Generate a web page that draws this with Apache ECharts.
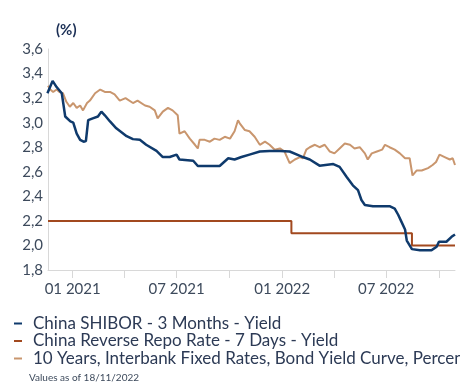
<!DOCTYPE html>
<html>
<head>
<meta charset="utf-8">
<script src="https://cdn.jsdelivr.net/npm/echarts@6/dist/echarts.min.js"></script>
<style>html,body{margin:0;padding:0;background:#fff}#c{width:460px;height:392px}</style>
</head>
<body>
<div id="c"></div>
<script>
const seriesNames = [
  'China SHIBOR - 3 Months - Yield',
  'China Reverse Repo Rate - 7 Days - Yield',
  '10 Years, Interbank Fixed Rates, Bond Yield Curve, Percent'
];
const shibor = [
  ['2020-11-18',3.24],['2020-11-27',3.34],['2020-12-04',3.29],['2020-12-13',3.24],['2020-12-19',3.05],
  ['2020-12-28',3.01],['2021-01-02',3.00],['2021-01-08',2.91],['2021-01-14',2.86],['2021-01-20',2.845],
  ['2021-01-24',2.85],['2021-01-28',3.02],['2021-02-05',3.035],['2021-02-14',3.05],['2021-02-20',3.09],
  ['2021-02-26',3.06],['2021-03-07',3.01],['2021-03-18',2.954],['2021-04-05',2.89],['2021-04-16',2.866],
  ['2021-04-28',2.86],['2021-05-09',2.82],['2021-05-27',2.77],['2021-06-07',2.72],['2021-06-19',2.72],
  ['2021-07-01',2.74],['2021-07-06',2.70],['2021-07-30',2.69],['2021-08-07',2.647],['2021-09-14',2.647],
  ['2021-09-29',2.71],['2021-10-10',2.70],['2021-10-22',2.72],['2021-11-05',2.74],['2021-11-23',2.765],
  ['2021-12-10',2.77],['2021-12-28',2.77],['2022-01-14',2.765],['2022-02-01',2.73],['2022-02-06',2.72],
  ['2022-02-18',2.70],['2022-03-07',2.65],['2022-03-31',2.663],['2022-04-11',2.64],['2022-04-23',2.56],
  ['2022-05-04',2.49],['2022-05-13',2.45],['2022-05-19',2.37],['2022-05-25',2.33],['2022-06-08',2.32],
  ['2022-07-07',2.32],['2022-07-16',2.30],['2022-07-22',2.25],['2022-07-28',2.19],['2022-08-03',2.13],
  ['2022-08-06',2.04],['2022-08-15',1.97],['2022-08-29',1.96],['2022-09-18',1.96],['2022-09-27',1.99],
  ['2022-10-01',2.03],['2022-10-14',2.03],['2022-10-23',2.07],['2022-10-29',2.09]
];
const repo = [
  ['2020-11-19',2.2],['2022-01-17',2.1],['2022-08-15',2.0],['2022-10-29',2.0]
];
const bond10y = [
  ['2020-11-19',3.30],['2020-11-23',3.27],['2020-11-28',3.25],['2020-12-04',3.27],['2020-12-09',3.25],
  ['2020-12-15',3.24],['2020-12-21',3.17],['2020-12-27',3.13],['2021-01-02',3.16],['2021-01-08',3.12],
  ['2021-01-14',3.14],['2021-01-19',3.10],['2021-01-26',3.16],['2021-01-31',3.18],['2021-02-09',3.24],
  ['2021-02-18',3.27],['2021-02-26',3.25],['2021-03-07',3.25],['2021-03-15',3.23],['2021-03-24',3.18],
  ['2021-04-03',3.20],['2021-04-16',3.16],['2021-04-24',3.18],['2021-05-07',3.14],['2021-05-15',3.13],
  ['2021-05-24',3.10],['2021-05-29',3.035],['2021-06-07',3.09],['2021-06-16',3.12],['2021-06-24',3.10],
  ['2021-07-03',3.06],['2021-07-06',2.91],['2021-07-15',2.93],['2021-07-24',2.87],['2021-08-02',2.82],
  ['2021-08-07',2.79],['2021-08-10',2.86],['2021-08-19',2.86],['2021-08-28',2.845],['2021-09-05',2.87],
  ['2021-09-14',2.86],['2021-09-23',2.885],['2021-10-02',2.87],['2021-10-10',2.93],['2021-10-16',3.02],
  ['2021-10-19',2.995],['2021-10-28',2.94],['2021-11-05',2.93],['2021-11-14',2.885],['2021-11-23',2.82],
  ['2021-12-02',2.845],['2021-12-10',2.82],['2021-12-19',2.78],['2021-12-28',2.79],['2022-01-05',2.765],
  ['2022-01-14',2.67],['2022-01-23',2.70],['2022-02-01',2.72],['2022-02-06',2.71],['2022-02-12',2.78],
  ['2022-02-18',2.80],['2022-02-27',2.82],['2022-03-07',2.80],['2022-03-16',2.82],['2022-03-25',2.765],
  ['2022-04-02',2.75],['2022-04-11',2.79],['2022-04-20',2.83],['2022-04-29',2.82],['2022-05-07',2.79],
  ['2022-05-16',2.80],['2022-05-25',2.75],['2022-05-30',2.70],['2022-06-06',2.75],['2022-06-15',2.765],
  ['2022-06-24',2.78],['2022-06-29',2.82],['2022-07-07',2.80],['2022-07-16',2.78],['2022-07-25',2.75],
  ['2022-08-03',2.71],['2022-08-11',2.71],['2022-08-16',2.57],['2022-08-23',2.61],['2022-09-01',2.61],
  ['2022-09-12',2.63],['2022-09-20',2.655],['2022-09-26',2.68],['2022-10-02',2.74],['2022-10-11',2.72],
  ['2022-10-20',2.70],['2022-10-25',2.71],['2022-10-29',2.655]
];
const xMin = '2020-11-19';
const xMax = '2022-10-29';
const tickDates = ['2021-01-01','2021-04-01','2021-07-01','2021-10-01','2022-01-01','2022-04-01','2022-07-01','2022-10-01'];
const labelDates = ['2021-01-01','2021-07-01','2022-01-01','2022-07-01'];
const yMin = 1.8, yMax = 3.6, yStep = 0.2;
const unitLabel = '(%)';
const footnote = 'Values as of 18/11/2022';
const colors = ['#0f3a6c', '#a2491f', '#c9966e'];

const ts = d => new Date(d + 'T00:00:00Z').getTime();
const chart = echarts.init(document.getElementById('c'), null, {renderer: 'canvas'});
const font = 'Lato, "Liberation Sans", sans-serif';
chart.setOption({
  animation: false,
  color: colors,
  textStyle: {fontFamily: font},
  grid: {left: 48, right: 5, top: 49, bottom: 122, containLabel: false},
  title: [
    {text: unitLabel, left: 51, top: 18, textStyle: {fontSize: 15, fontWeight: 'bold', color: '#1b2f55', fontFamily: font}},
    {text: footnote, left: 24, top: 368, textStyle: {fontSize: 10, fontWeight: 'normal', color: '#3d4a5c', fontFamily: font}}
  ],
  legend: {
    orient: 'vertical', left: 14, top: 315, itemWidth: 8, itemHeight: 2, itemGap: 0.5,
    icon: 'rect', padding: 0,
    textStyle: {fontSize: 17, color: '#2c3a55', lineHeight: 17, padding: [0,0,0,6], fontFamily: font},
    data: seriesNames
  },
  xAxis: {
    type: 'value', min: ts(xMin), max: ts(xMax),
    axisLine: {lineStyle: {color: '#d8d8d8', width: 1}},
    axisTick: {show: true, length: 8, lineStyle: {color: '#d8d8d8'}, customValues: tickDates.map(ts)},
    axisLabel: {
      customValues: labelDates.map(ts), margin: 12, fontSize: 15, color: '#3d4a5c', fontFamily: font,
      formatter: v => { const d = new Date(v); return String(d.getUTCMonth()+1).padStart(2,'0') + ' ' + d.getUTCFullYear(); }
    },
    splitLine: {show: false}
  },
  yAxis: {
    type: 'value', min: yMin, max: yMax, interval: yStep,
    axisLine: {show: true, lineStyle: {color: '#d8d8d8', width: 1}},
    axisTick: {show: false},
    axisLabel: {margin: 5, fontSize: 15, color: '#3d4a5c', fontFamily: font, formatter: v => v.toFixed(1).replace('.', ',')},
    splitLine: {show: false}
  },
  series: [
    {name: seriesNames[0], type: 'line', data: shibor.map(p => [ts(p[0]), p[1]]), showSymbol: false, lineStyle: {width: 2.5, color: colors[0]}, z: 4},
    {name: seriesNames[1], type: 'line', step: 'end', data: repo.map(p => [ts(p[0]), p[1]]), showSymbol: false, lineStyle: {width: 2, color: colors[1]}, z: 3},
    {name: seriesNames[2], type: 'line', data: bond10y.map(p => [ts(p[0]), p[1]]), showSymbol: false, lineStyle: {width: 2, color: colors[2]}, z: 2}
  ]
});
</script>
</body>
</html>
